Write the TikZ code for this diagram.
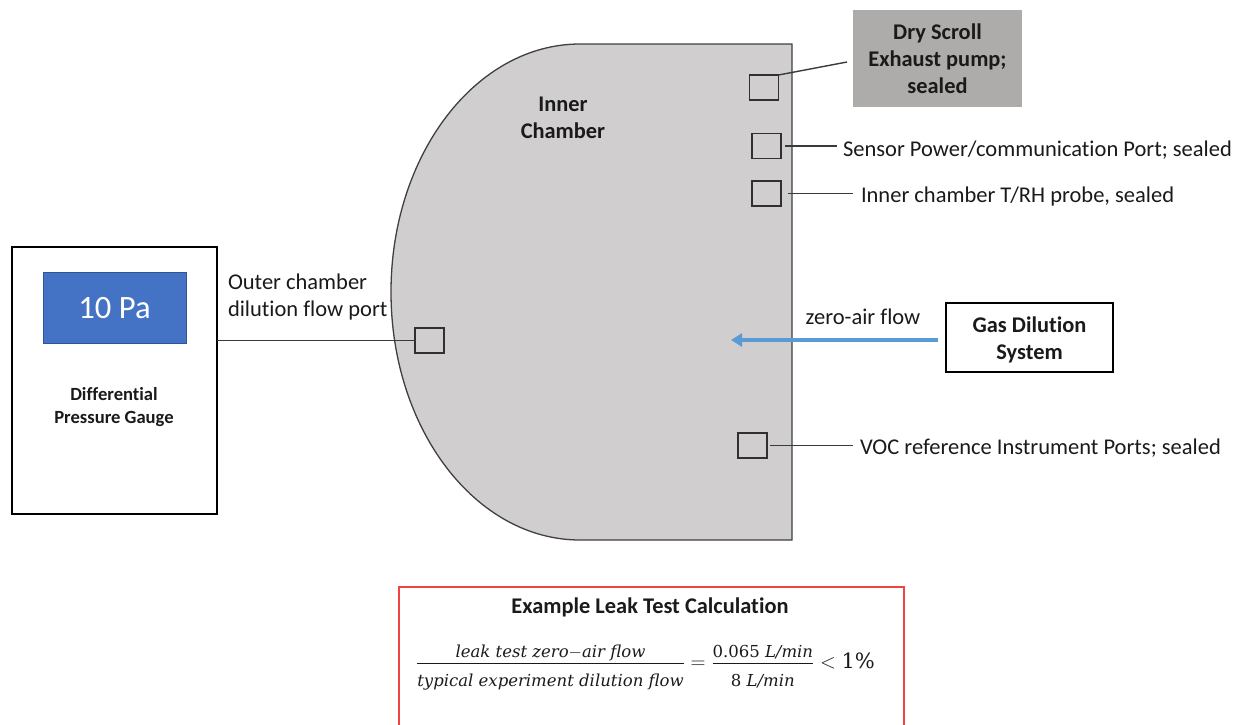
\documentclass[tikz,border=0pt]{standalone}
\usepackage{fontspec}
\setmainfont{Carlito}[Ligatures=NoCommon]
\newfontfamily\eqfont{DejaVu Serif}
\usepackage{graphicx}
\usetikzlibrary{arrows.meta,calc}

% pieces of the leak-test ratio, set in a wide serif
\newcommand{\eqpart}[1]{\mbox{\fontsize{16.5}{20}\eqfont #1}}

\definecolor{chambergray}{HTML}{D0CECE}
\definecolor{chamberline}{HTML}{404040}
\definecolor{portline}{HTML}{303030}
\definecolor{leaderline}{HTML}{3A3A3A}
\definecolor{pumpgray}{HTML}{AEABAB}
\definecolor{displayblue}{HTML}{4472C4}
\definecolor{blueborder}{HTML}{2F5597}
\definecolor{flowblue}{HTML}{5B9BD5}
\definecolor{calcred}{RGB}{238,68,68}
\definecolor{ink}{HTML}{1A1A1A}

\begin{document}
\begin{tikzpicture}[x=1pt,y=-1pt,
  every node/.style={inner sep=0pt, outer sep=0pt, text=ink},
  plainlabel/.style={font=\fontsize{22.5}{27}\selectfont},
  boldlabel/.style={font=\fontsize{22.4}{27}\selectfont\bfseries, align=center},
  port/.style={draw=portline, line width=1.4pt, fill=chambergray,
               minimum width=29pt, minimum height=25pt},
  leader/.style={draw=leaderline, line width=1.4pt},
  box/.style={draw=black, line width=1.2pt, fill=white},
  flow/.style={draw=flowblue, line width=3.2pt,
               -{Triangle[length=11pt,width=13pt]}},
  calcframe/.style={draw=calcred, line width=1.3pt}
]
\useasboundingbox (0,0) rectangle (1243,724);

% inner chamber: flat right side, half-elliptical left side
\path[draw=chamberline, line width=1.3pt, fill=chambergray]
  (580,44) -- (792,44) -- (792,540) -- (580,540)
  .. controls (475.6,540) and (391,429) .. (391,292)
  .. controls (391,155) and (475.6,44) .. (580,44) -- cycle;
\node[boldlabel] (innerlabel) at (563,117.5) {Inner\\Chamber};

% ports on the chamber wall
\node[port] (p1)  at (764,87.5)    {};
\node[port] (p2)  at (766.5,146)   {};
\node[port] (p3)  at (766.5,193.5) {};
\node[port] (voc) at (752.5,445.5) {};
\node[port] (outerport) at (429.5,340.5) {};

% differential pressure gauge
\node[box, minimum width=205pt, minimum height=267pt] (gauge) at (114.5,380.5) {};
\node[draw=blueborder, fill=displayblue, line width=1pt,
      minimum width=143pt, minimum height=71pt, text=white,
      font=\fontsize{32.6}{39}\selectfont] (display) at (114.5,308) {10 Pa};
\node[font=\fontsize{18.6}{22.5}\selectfont\bfseries, align=center]
  (gaugelabel) at (114,407) {Differential\\Pressure Gauge};
\draw[leader] (outerport.west -| gauge.east) -- (outerport.west);
\node[plainlabel, align=left, anchor=west] (outerlabel) at (228,296.5)
  {Outer chamber\\dilution flow port};

% exhaust pump
\node[fill=pumpgray, minimum width=169pt, minimum height=97pt, boldlabel]
  (pump) at (937.5,58.5) {Dry Scroll\\Exhaust pump;\\sealed};
\draw[leader] (p1.north east) -- ($(pump.west)+(-6,3.5)$);

% sealed port labels
\node[plainlabel, anchor=west] (sensorlabel) at (843,150)
  {Sensor Power/communication Port; sealed};
\draw[leader] ([xshift=4pt]p2.east) -- ($(p2.east -| sensorlabel.west)+(-6,0)$);
\node[plainlabel, anchor=west] (probelabel) at (861,196)
  {Inner chamber T/RH probe, sealed};
\draw[leader] ([xshift=7pt]p3.east) -- ($(p3.east -| probelabel.west)+(-8,0)$);
\node[plainlabel, anchor=west] (voclabel) at (860,448)
  {VOC reference Instrument Ports; sealed};
\draw[leader] ([xshift=3pt]voc.east) -- ($(voc.east -| voclabel.west)+(-7,0)$);

% gas dilution system and zero-air flow
\node[box, minimum width=167pt, minimum height=69pt, boldlabel]
  (gas) at (1029.5,337.5) {};
\node[boldlabel] (gastext) at (1029.5,339.5) {Gas Dilution\\System};
\coordinate (flowend) at (731,340);
\draw[flow] ($(gas.west)+(-8,2.5)$) -- (flowend);
\node[plainlabel] (flowlabel) at (863,317) {zero-air flow};

% leak test calculation panel
\coordinate (calcbl) at (399,730);
\coordinate (calctl) at (399,587);
\coordinate (calctr) at (904,587);
\coordinate (calcbr) at (904,730);
\draw[calcframe] (calcbl) -- (calctl) -- (calctr) -- (calcbr);
\node[font=\fontsize{22.4}{27}\selectfont\bfseries] (calctitle) at (650,607)
  {Example Leak Test Calculation};
\node[font=\fontsize{22}{26}\selectfont, anchor=base] (calceq) at (645.5,668.5)
  {$\displaystyle
   \frac{\raisebox{-3pt}{\eqpart{\itshape leak test zero$-$air flow}}}
        {\raisebox{-4pt}{\eqpart{\itshape typical experiment dilution flow}}}
   = \frac{\raisebox{-3pt}{\eqpart{0.065 \itshape L/min}}}
          {\raisebox{-4pt}{\eqpart{8 \itshape L/min}}}
   < \mbox{\fontsize{21}{25}\eqfont 1\%}$};
\end{tikzpicture}
\end{document}
